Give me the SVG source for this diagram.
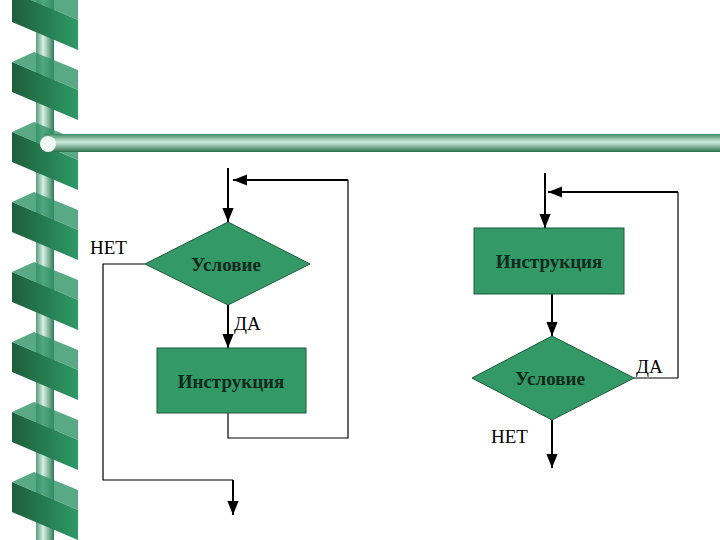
<svg xmlns="http://www.w3.org/2000/svg" width="720" height="540" viewBox="0 0 720 540">
<defs>
<linearGradient id="pole" x1="0" x2="1" y1="0" y2="0"><stop offset="0" stop-color="#5a9a7a"/><stop offset="0.4" stop-color="#d8f0e4"/><stop offset="1" stop-color="#2f7a55"/></linearGradient>
<linearGradient id="bar" x1="0" x2="0" y1="0" y2="1"><stop offset="0" stop-color="#3f8a65"/><stop offset="0.45" stop-color="#d0eedf"/><stop offset="1" stop-color="#2a6f4c"/></linearGradient>
<linearGradient id="rib" x1="0" x2="1" y1="0" y2="0"><stop offset="0" stop-color="#1d5e3c"/><stop offset="1" stop-color="#2e9a66"/></linearGradient>
<marker id="ah" viewBox="0 0 10 10" refX="10" refY="5" markerWidth="7" markerHeight="7" orient="auto"><path d="M0,1 L10,5 L0,9 z" fill="#000"/></marker>
<g id="ribbon"><path d="M12,0 L78,28 L78,58 L12,30 z" fill="url(#rib)"/><path d="M12,0 L34,-10 L78,8 L78,28 z" fill="#2f9466" opacity="0.8"/></g>
</defs>
<style>
.sh{fill:#339966;stroke:#1e5a3c;stroke-width:1}
.ln{fill:none;stroke:#000;stroke-width:1.2}
.ar{fill:none;stroke:#000;stroke-width:2;marker-end:url(#ah)}
.t{font-family:"Liberation Serif",serif;font-size:19px;fill:#000}
.b{font-family:"Liberation Serif",serif;font-size:19px;font-weight:bold;fill:#0f2a1c;text-anchor:middle}
</style>
<rect width="720" height="540" fill="#fff"/>
<g id="decor">
<rect x="36" y="0" width="18" height="540" fill="url(#pole)"/>
<use href="#ribbon" y="-8"/><use href="#ribbon" y="62"/><use href="#ribbon" y="132"/><use href="#ribbon" y="202"/><use href="#ribbon" y="272"/><use href="#ribbon" y="342"/><use href="#ribbon" y="412"/><use href="#ribbon" y="482"/>
<rect x="44" y="134" width="676" height="18" fill="url(#bar)"/>
<circle cx="48" cy="144" r="8" fill="#eefaf3"/>
</g>
<g id="connectors">
<line class="ar" x1="228" y1="168" x2="228" y2="222"/>
<polyline class="ar" points="348,180 233,180"/>
<line class="ar" x1="228" y1="305" x2="228" y2="348"/>
<polyline class="ln" points="228,413 228,438 348,438 348,180"/>
<polyline class="ln" points="145,264 103,264 103,480 233,480"/>
<line class="ar" x1="233" y1="480" x2="233" y2="515"/>
<line class="ar" x1="545" y1="173" x2="545" y2="228"/>
<polyline class="ar" points="678,192 548,192"/>
<line class="ln" x1="678" y1="192" x2="678" y2="378"/>
<polyline class="ln" points="634,378 678,378"/>
<line class="ar" x1="552" y1="294" x2="552" y2="336"/>
<line class="ar" x1="552" y1="420" x2="552" y2="468"/>
</g>
<g id="cond1"><polygon class="sh" points="145,264 228,222 310,264 228,305"/><text class="b" x="226" y="271">Условие</text></g>
<g id="instr1"><rect class="sh" x="157" y="348" width="149" height="65"/><text class="b" x="231" y="388">Инструкция</text></g>
<g id="instr2"><rect class="sh" x="474" y="228" width="150" height="66"/><text class="b" x="549" y="268">Инструкция</text></g>
<g id="cond2"><polygon class="sh" points="472,378 552,336 634,378 552,420"/><text class="b" x="550" y="385">Условие</text></g>
<g id="labels">
<text class="t" x="90" y="254">НЕТ</text>
<text class="t" x="234" y="330">ДА</text>
<text class="t" x="636" y="373">ДА</text>
<text class="t" x="491" y="443">НЕТ</text>
</g>
</svg>
